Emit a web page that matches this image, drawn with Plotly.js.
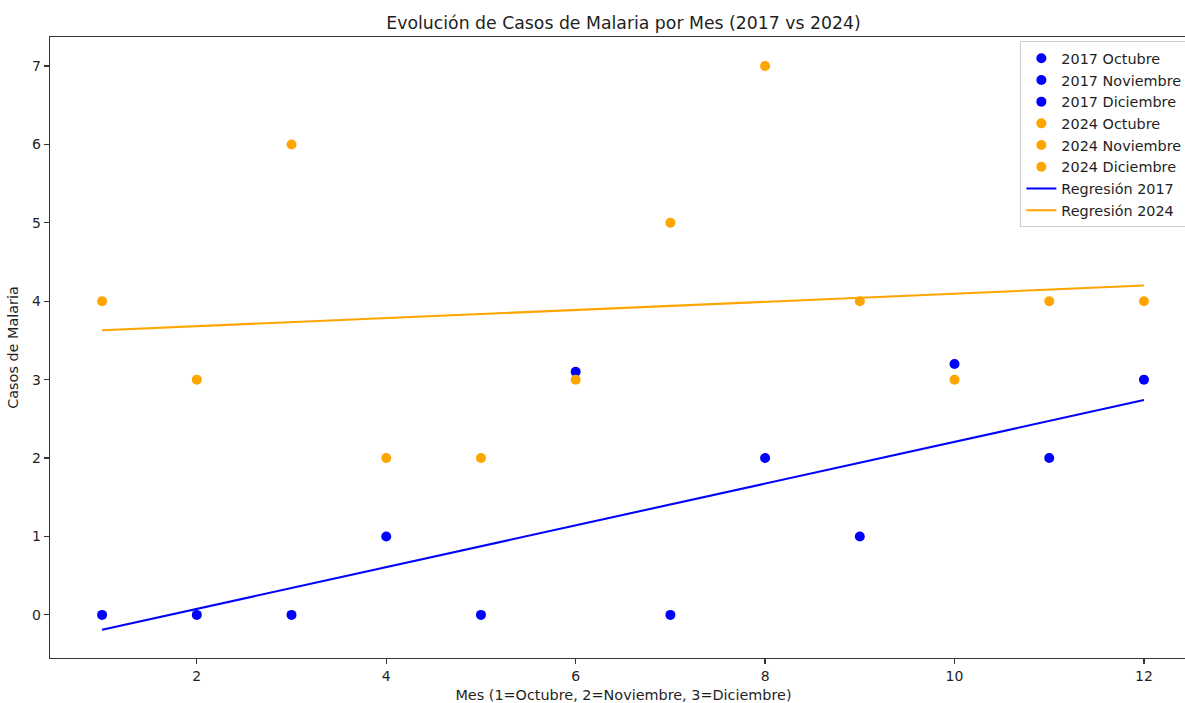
<!DOCTYPE html>
<html>
<head>
<meta charset="utf-8">
<script src="https://cdn.plot.ly/plotly-3.0.1.min.js"></script>
<style>html,body{margin:0;padding:0;background:#fff;overflow:hidden;width:1185px;height:703px;}#chart{width:1210px;height:703px;}</style>
</head>
<body>
<div id="chart"></div>
<script>
// Data
const x2017Oct = [1, 2, 3, 4];
const y2017Oct = [0, 0, 0, 1];
const x2017Nov = [5, 6, 7, 8];
const y2017Nov = [0, 3.1, 0, 2];
const x2017Dic = [9, 10, 11, 12];
const y2017Dic = [1, 3.2, 2, 3];

const x2024Oct = [1, 2, 3, 4];
const y2024Oct = [4, 3, 6, 2];
const x2024Nov = [5, 6, 7, 8];
const y2024Nov = [2, 3, 5, 7];
const x2024Dic = [9, 10, 11, 12];
const y2024Dic = [4, 3, 4, 4];

const xReg = [1, 12];
const yReg2017 = [-0.19, 2.74];
const yReg2024 = [3.63, 4.2];

const xTicks = [2, 4, 6, 8, 10, 12];
const yTicks = [0, 1, 2, 3, 4, 5, 6, 7];

const BLUE = '#0000ff';
const ORANGE = '#ffa500';
const FONT = 'DejaVu Sans';
const TXT = '#1f1f1f';

function pts(x, y, name, color) {
  return {x: x, y: y, name: name, type: 'scatter', mode: 'markers',
    marker: {color: color, size: 10, line: {width: 0}}};
}

const traces = [
  pts(x2017Oct, y2017Oct, '2017 Octubre', BLUE),
  pts(x2017Nov, y2017Nov, '2017 Noviembre', BLUE),
  pts(x2017Dic, y2017Dic, '2017 Diciembre', BLUE),
  pts(x2024Oct, y2024Oct, '2024 Octubre', ORANGE),
  pts(x2024Nov, y2024Nov, '2024 Noviembre', ORANGE),
  pts(x2024Dic, y2024Dic, '2024 Diciembre', ORANGE),
  {x: xReg, y: yReg2017, name: 'Regresión 2017', type: 'scatter', mode: 'lines', line: {color: BLUE, width: 2.1}},
  {x: xReg, y: yReg2024, name: 'Regresión 2024', type: 'scatter', mode: 'lines', line: {color: ORANGE, width: 2.1}}
];

const axisCommon = {
  showgrid: false, zeroline: false, showline: true, mirror: true,
  linecolor: '#333333', linewidth: 1.3,
  ticks: 'outside', ticklen: 5, tickwidth: 1.2, tickcolor: '#333333',
  tickfont: {family: FONT, size: 14, color: TXT}
};

const layout = {
  width: 1210, height: 703,
  margin: {l: 50, r: 13, t: 37, b: 45},
  paper_bgcolor: '#ffffff', plot_bgcolor: '#ffffff',
  font: {family: FONT, color: TXT},
  title: {text: 'Evolución de Casos de Malaria por Mes (2017 vs 2024)',
    font: {family: FONT, size: 17.3, color: TXT},
    xref: 'paper', x: 0.5, xanchor: 'center', yref: 'container', y: 0.968, yanchor: 'middle'},
  xaxis: Object.assign({}, axisCommon, {
    range: [0.45, 12.56], tickvals: xTicks,
    title: {text: 'Mes (1=Octubre, 2=Noviembre, 3=Diciembre)', font: {family: FONT, size: 14.4, color: TXT}, standoff: 7}
  }),
  yaxis: Object.assign({}, axisCommon, {
    mirror: false,
    range: [-0.55, 7.37], tickvals: yTicks,
    title: {text: 'Casos de Malaria', font: {family: FONT, size: 14.4, color: TXT}, standoff: 10}
  }),
  showlegend: true,
  legend: {x: 0.846, xanchor: 'left', y: 0.993, yanchor: 'top',
    bgcolor: 'rgba(255,255,255,0.9)', bordercolor: '#cccccc', borderwidth: 1,
    font: {family: FONT, size: 14.4, color: TXT},
    tracegroupgap: 0, itemwidth: 30}
};

Plotly.newPlot('chart', traces, layout, {displayModeBar: false, staticPlot: true});
</script>
</body>
</html>
